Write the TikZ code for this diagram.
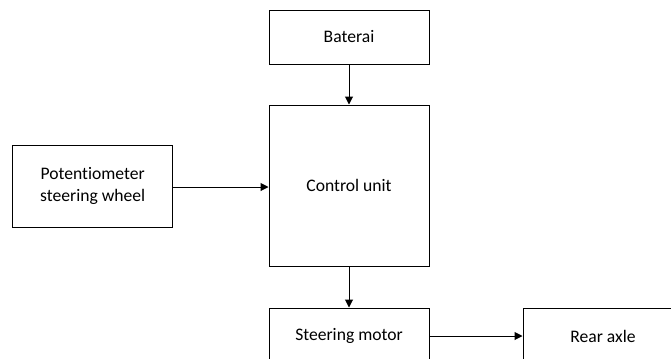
\documentclass[tikz,border=0pt]{standalone}
\usepackage{fontspec}
\setmainfont[Ligatures=NoCommon]{Carlito}
\usetikzlibrary{arrows.meta,positioning}

\begin{document}
\begin{tikzpicture}[x=0.75pt,y=-0.75pt,
    block/.style={draw, line width=0.75pt, minimum width=120pt, align=center,
      font=\fontsize{13.2}{16.3}\selectfont, inner sep=0pt},
    flow/.style={-{Triangle[length=6pt,width=6pt]}, line width=0.75pt}]
    \useasboundingbox (0,0) rectangle (671,358);
    \clip (0,0) rectangle (671,358);
    % Blocks
    \node[block, minimum height=40.5pt] (bat) at (349,37) {Baterai};
    \node[block, minimum height=120.75pt] (ctrl) at (349,185.5) {Control unit};
    \node[block, minimum height=61.5pt] (pot) at (92.7,186) {Potentiometer\\steering wheel};
    \node[block, minimum height=42pt] (motor) at (349,336) {Steering motor};
    \node[block, minimum height=42pt] (axle) at (603,336) {Rear axle};
    % Connections
    \draw[flow] (bat) -- (ctrl);
    \draw[flow] (pot.east |- 0,187) -- (ctrl.west |- 0,187);
    \draw[flow] (ctrl) -- (motor);
    \draw[flow] (motor) -- (axle);
\end{tikzpicture}
\end{document}
